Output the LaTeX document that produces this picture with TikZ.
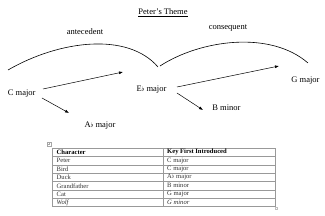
\documentclass[tikz,border=0pt]{standalone}
\usepackage{fontspec}
\setmainfont{Liberation Serif}
\usetikzlibrary{arrows.meta}
\newcommand{\fl}{\raisebox{0.1ex}{\scalebox{0.8}{$\flat$}}}
\begin{document}
\begin{tikzpicture}[x=1pt,y=-1pt,
  lbl/.style={inner sep=0pt,font=\fontsize{8.5}{10}\selectfont},
  arr/.style={line width=0.5pt,-{Latex[length=4pt,width=3pt]}},
  arc/.style={line width=0.6pt},
  cell/.style={inner sep=0pt,anchor=west,font=\fontsize{6.6}{7.5}\selectfont,text=black!80},
  hcell/.style={cell,font=\fontsize{6.6}{7.5}\selectfont\bfseries,text=black},
  grid/.style={draw=black!40,line width=0.5pt}]
\useasboundingbox (0,0) rectangle (325,216);
% title and labels
\node[lbl] (title) at (163,12.7) {\underline{Peter’s Theme}};
\node[lbl] (ante) at (85,32) {antecedent};
\node[lbl] (cons) at (228,28) {consequent};
% arcs
\coordinate (a1s) at (8,70);
\coordinate (a1e) at (158,67);
\coordinate (a2s) at (160,66);
\coordinate (a2e) at (308,63);
\draw[arc] (a1s) .. controls (60,40) and (128,32) .. (a1e);
\draw[arc] (a2s) .. controls (200,40) and (270,30) .. (a2e);
% key nodes
\node[lbl] (cmaj) at (21.7,93.3) {C major};
\node[lbl] (emaj) at (151.5,90) {E\fl{} major};
\node[lbl] (gmaj) at (305.5,81) {G major};
\node[lbl] (bmin) at (226.5,108) {B minor};
\node[lbl] (amaj) at (100,126) {A\fl{} major};
% arrow endpoints
\coordinate (c1) at (43,89);   \coordinate (e1) at (123,72);
\coordinate (c2) at (42,98);   \coordinate (a2) at (69,113);
\coordinate (e3) at (177,87);  \coordinate (g3) at (279,66);
\coordinate (e4) at (177,93);  \coordinate (b4) at (203,110);
\draw[arr] (c1) -- (e1);
\draw[arr] (c2) -- (a2);
\draw[arr] (e3) -- (g3);
\draw[arr] (e4) -- (b4);
% table
\def\rh{8.386}
\draw[grid] (52,148) rectangle (275,206.7);
\foreach \i in {1,...,6} {\draw[grid] (52,148+\i*\rh) -- (275,148+\i*\rh);}
\draw[grid] (163,148) -- (163,206.7);
% move handle and resize handle
\draw[draw=black!35,line width=0.4pt] (47,142) rectangle (51,146);
\draw[draw=black!35,line width=0.3pt] (49,142.8) -- (49,145.2) (47.8,144) -- (50.2,144);
\draw[draw=black!25,line width=0.3pt] (275.5,207.2) rectangle (277.5,209.2);
% cells
\node[hcell] (h1) at (56.5,148+0.5*\rh) {Character};
\node[hcell] (h2) at (167,148+0.5*\rh) {Key First Introduced};
\node[cell] (r1a) at (56.5,148+1.5*\rh) {Peter};
\node[cell] (r1b) at (167,148+1.5*\rh) {C major};
\node[cell] (r2a) at (56.5,148+2.5*\rh) {Bird};
\node[cell] (r2b) at (167,148+2.5*\rh) {C major};
\node[cell] (r3a) at (56.5,148+3.5*\rh) {Duck};
\node[cell] (r3b) at (167,148+3.5*\rh) {A\fl{} major};
\node[cell] (r4a) at (56.5,148+4.5*\rh) {Grandfather};
\node[cell] (r4b) at (167,148+4.5*\rh) {B minor};
\node[cell] (r5a) at (56.5,148+5.5*\rh) {Cat};
\node[cell] (r5b) at (167,148+5.5*\rh) {G major};
\node[cell] (r6a) at (56.5,148+6.5*\rh) {\itshape Wolf};
\node[cell] (r6b) at (167,148+6.5*\rh) {\itshape G minor};
\end{tikzpicture}
\end{document}
